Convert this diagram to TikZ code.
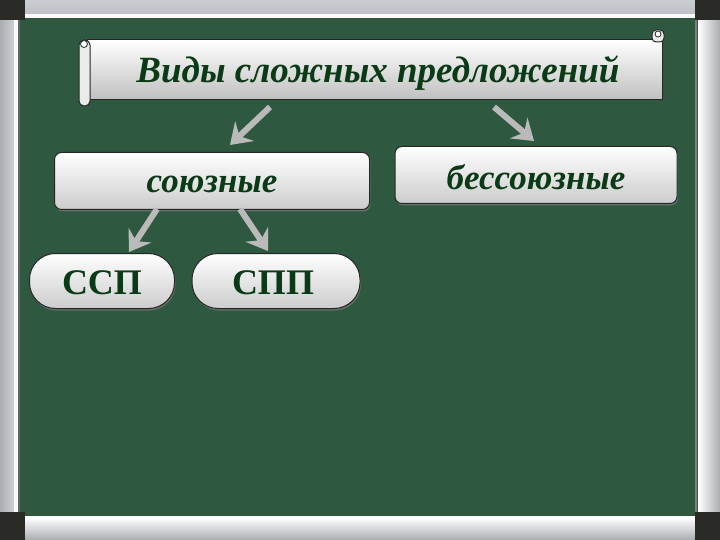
\documentclass[tikz,border=0pt]{standalone}
\usepackage{fontspec}
\setmainfont{Liberation Serif}
\usetikzlibrary{arrows.meta,shadows}
\definecolor{board}{RGB}{46,89,64}
\definecolor{barg}{RGB}{188,192,197}
\definecolor{cornerc}{RGB}{42,42,38}
\definecolor{ink}{RGB}{10,58,22}
\definecolor{arrowg}{RGB}{186,186,186}
\tikzset{
  btn/.style={draw=black!85, line width=1pt, rounded corners=7pt, top color=white, bottom color=black!20,
    drop shadow={shadow xshift=1pt, shadow yshift=-2pt, opacity=0.6}, inner sep=0pt},
  pill/.style={draw=black!85, line width=1pt, rounded corners=26pt, top color=white, bottom color=black!20,
    drop shadow={shadow xshift=1pt, shadow yshift=-2pt, opacity=0.6}, inner sep=0pt},
  garrow/.style={draw=arrowg, line width=6pt, -{Stealth[length=20pt, width=27pt, inset=7pt]}},
  lbl/.style={text=ink, font=\bfseries\itshape}
}
\begin{document}
\begin{tikzpicture}[x=1pt,y=-1pt]
\useasboundingbox (0,0) rectangle (720,540);
% board
\fill[board] (0,0) rectangle (720,540);
% frame bars
\shade[top color=barg!80!white, bottom color=barg] (25,0) rectangle (695,15);
\fill[white!92!barg] (25,14) rectangle (695,18);
\shade[top color=white!92!barg, bottom color=barg!90!black] (25,519) rectangle (695,540);
\fill[white] (25,516) rectangle (695,520);
\shade[left color=barg!90!black, right color=barg!70!white] (0,20) rectangle (15,512);
\fill[white!92!barg] (14,20) rectangle (18,512);
\fill[black!60] (18,20) rectangle (20,512);
\shade[left color=white, right color=barg!90!black] (698,20) rectangle (720,512);
\fill[black!50] (695,20) rectangle (697,512);
\fill[cornerc] (0,0) rectangle (25,20);
\fill[cornerc] (695,0) rectangle (720,20);
\fill[cornerc] (0,512) rectangle (25,540);
\fill[cornerc] (695,512) rectangle (720,540);
% title scroll
\node[draw=black!85, line width=1pt, top color=white, bottom color=black!25, minimum width=575pt, minimum height=60pt, inner sep=0pt]
  (title) at (375,70) {};
\draw[line width=1pt, draw=black!85, fill=black!8, rounded corners=5pt] (79,40) rectangle (90,106);
\draw[line width=0.8pt, draw=black!85, fill=white] (84,44) circle (3.5pt);
\draw[line width=1pt, draw=black!85, fill=black!8, rounded corners=4pt] (652,30) rectangle (664,42);
\draw[line width=0.8pt, draw=black!85, fill=white] (658,34) circle (3pt);
\node[lbl, font=\fontsize{37}{42}\selectfont\bfseries\itshape] (titletext) at (378,73) {Виды сложных предложений};
% boxes
\node[btn, minimum width=315pt, minimum height=57pt] (soyuz) at (212,181) {};
\node[lbl, font=\fontsize{35}{40}\selectfont\bfseries\itshape] at ([yshift=-3pt]soyuz) {союзные};
\node[btn, minimum width=282pt, minimum height=57pt] (bessoyuz) at (536,175) {};
\node[lbl, font=\fontsize{35}{40}\selectfont\bfseries\itshape] at ([yshift=-2pt]bessoyuz) {бессоюзные};
\node[pill, minimum width=145pt, minimum height=55pt] (ssp) at (102,281) {};
\node[text=ink, font=\fontsize{36}{40}\selectfont\bfseries] at ([yshift=-2pt]ssp) {ССП};
\node[pill, minimum width=168pt, minimum height=55pt] (spp) at (276,281) {};
\node[text=ink, font=\fontsize{36}{40}\selectfont\bfseries] at ([yshift=-2pt,xshift=-3pt]spp) {СПП};
% arrow coordinates
\coordinate (a1s) at (270,107); \coordinate (a1e) at (230,145);
\coordinate (a2s) at (494,107); \coordinate (a2e) at (534,141);
\coordinate (a3s) at (157,209); \coordinate (a3e) at (129,252);
\coordinate (a4s) at (240,209); \coordinate (a4e) at (268,251);
\draw[garrow] (a1s) -- (a1e);
\draw[garrow] (a2s) -- (a2e);
\draw[garrow] (a3s) -- (a3e);
\draw[garrow] (a4s) -- (a4e);
\end{tikzpicture}
\end{document}
